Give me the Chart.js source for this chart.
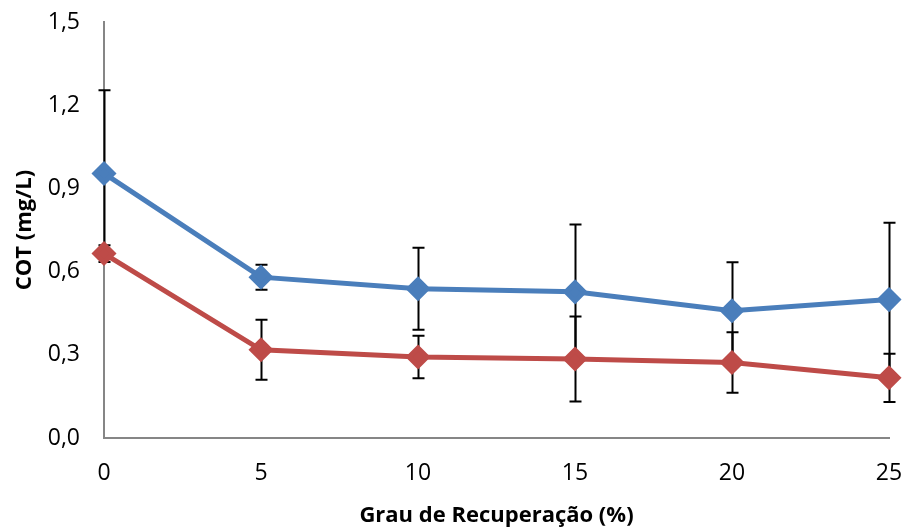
<!DOCTYPE html>
<html>
<head>
<meta charset="utf-8">
<script src="https://cdn.jsdelivr.net/npm/chart.js@4/dist/chart.umd.min.js"></script>
<style>
  html, body { margin: 0; padding: 0; background: #fff; }
  #wrap { width: 906px; height: 529px; position: relative; }
</style>
</head>
<body>
<div id="wrap"><canvas id="c" width="906" height="529"></canvas></div>
<script>
// Recovery degree (%) on the x axis
const recovery = [0, 5, 10, 15, 20, 25];
// TOC means and standard deviations, two series
const cotBlue = [0.954, 0.580, 0.538, 0.527, 0.459, 0.499];
const errBlue = [0.300, 0.045, 0.148, 0.243, 0.175, 0.277];
const cotRed  = [0.665, 0.318, 0.292, 0.285, 0.272, 0.217];
const errRed  = [0.030, 0.108, 0.077, 0.153, 0.109, 0.087];
const yTicks  = [0, 0.3, 0.6, 0.9, 1.2, 1.5];

const pts = (vals) => recovery.map((x, i) => ({ x: x, y: vals[i] }));

// Draws vertical error bars with caps behind the series lines
const errorBars = {
  id: 'errorBars',
  beforeDatasetsDraw(chart) {
    const ctx = chart.ctx;
    const xs = chart.scales.x, ys = chart.scales.y;
    ctx.save();
    ctx.strokeStyle = '#000';
    ctx.lineWidth = 2;
    chart.data.datasets.forEach(ds => {
      ds.data.forEach((p, i) => {
        const e = ds.errors[i];
        const px = Math.round(xs.getPixelForValue(p.x)) + 0.5;
        const top = ys.getPixelForValue(p.y + e);
        const bot = ys.getPixelForValue(p.y - e);
        ctx.beginPath();
        ctx.moveTo(px, top); ctx.lineTo(px, bot);
        ctx.moveTo(px - 6, top); ctx.lineTo(px + 6, top);
        ctx.moveTo(px - 6, bot); ctx.lineTo(px + 6, bot);
        ctx.stroke();
      });
    });
    ctx.restore();
  }
};

new Chart(document.getElementById('c'), {
  type: 'line',
  data: {
    datasets: [
      {
        data: pts(cotBlue), errors: errBlue,
        borderColor: '#4A7EBB', backgroundColor: '#4A7EBB',
        borderWidth: 5, pointStyle: 'rectRot', pointRadius: 9,
        pointHoverRadius: 9, tension: 0, clip: false, order: 2
      },
      {
        data: pts(cotRed), errors: errRed,
        borderColor: '#BE4B48', backgroundColor: '#BE4B48',
        borderWidth: 5, pointStyle: 'rectRot', pointRadius: 9,
        pointHoverRadius: 9, tension: 0, clip: false, order: 1
      }
    ]
  },
  options: {
    responsive: false,
    animation: false,
    layout: { padding: { top: 22, right: 17, left: 0, bottom: 0 } },
    plugins: { legend: { display: false }, tooltip: { enabled: false } },
    scales: {
      x: {
        type: 'linear', min: 0, max: 25,
        afterBuildTicks(s) { s.ticks = recovery.map(v => ({ value: v })); },
        afterFit(s) { s.height = 91; s.paddingLeft = 0; s.paddingRight = 0; },
        grid: { display: false, drawTicks: false },
        border: { display: true, color: '#868686', width: 2 },
        ticks: {
          color: '#000', padding: 22,
          font: { family: 'Open Sans', size: 23 },
          maxRotation: 0, autoSkip: false
        },
        title: {
          display: true, text: 'Grau de Recuperação (%)', color: '#000',
          font: { family: 'Open Sans', size: 22, weight: 'bold' },
          padding: { top: 0, bottom: 0 }
        }
      },
      y: {
        type: 'linear', min: 0, max: 1.5,
        afterBuildTicks(s) { s.ticks = yTicks.map(v => ({ value: v })); },
        afterFit(s) { s.width = 104; s.paddingTop = 0; s.paddingBottom = 0; },
        grid: { display: false, drawTicks: false },
        border: { display: true, color: '#868686', width: 2 },
        ticks: {
          color: '#000', padding: 24,
          font: { family: 'Open Sans', size: 23 },
          callback: v => v.toFixed(1).replace('.', ',')
        },
        title: {
          display: true, text: 'COT (mg/L)', color: '#000',
          font: { family: 'Open Sans', size: 22, weight: 'bold' },
          padding: { top: 12, bottom: 0 }
        }
      }
    }
  },
  plugins: [errorBars]
});
</script>
</body>
</html>
